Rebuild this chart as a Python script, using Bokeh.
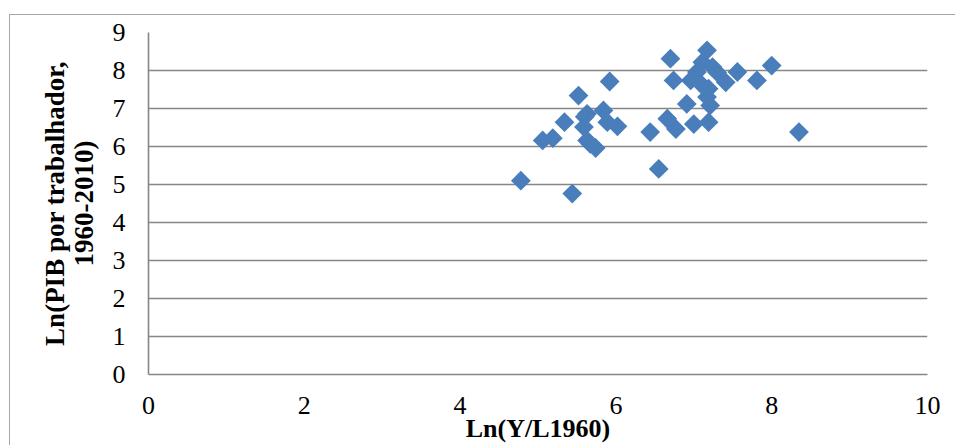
import math
from bokeh.plotting import figure
from bokeh.models import FixedTicker, Range1d
from bokeh.embed import file_html
from bokeh.resources import INLINE

# Data
ln_y_l1960 = [4.78, 5.44, 5.06, 5.19, 5.34, 5.52, 5.92, 5.63, 5.59, 5.84, 5.89, 6.02,
              5.63, 5.74, 5.67, 5.60,
              6.44, 6.55, 6.70, 6.74, 6.66, 6.77, 6.91, 7.00, 7.19, 7.17, 7.11, 7.24,
              7.04, 6.96, 7.09, 7.19, 7.17, 7.21, 7.41, 7.56, 7.81, 8.00, 8.35, 7.30]
ln_pib_trab = [5.10, 4.76, 6.16, 6.22, 6.64, 7.34, 7.71, 6.86, 6.51, 6.95, 6.64, 6.53,
               6.16, 5.96, 6.07, 6.78,
               6.38, 5.41, 8.31, 7.74, 6.73, 6.46, 7.12, 6.59, 6.64, 8.53, 8.22, 8.09,
               7.96, 7.74, 7.65, 7.52, 7.30, 7.08, 7.69, 7.96, 7.74, 8.13, 6.38, 7.95]

x_ticks = [0, 2, 4, 6, 8, 10]
y_ticks = [0, 1, 2, 3, 4, 5, 6, 7, 8, 9]
x_title = "Ln(Y/L1960)"
y_title = "Ln(PIB por trabalhador,\n1960-2010)"

W, H = 955, 445
FL, FT, FR, FB = 148, 32, 28, 71   # frame borders

p = figure(width=W, height=H, output_backend="svg", toolbar_location=None,
           x_range=Range1d(0, 10), y_range=Range1d(0, 9),
           min_border_left=FL, min_border_top=FT, min_border_right=FR, min_border_bottom=FB)
p.outline_line_color = None
p.background_fill_color = "white"
p.border_fill_color = None
border_col = "#a6a6a6"
p.styles = {
    "background-color": "white",
    "background-image": f"linear-gradient({border_col},{border_col}), linear-gradient({border_col},{border_col})",
    "background-size": "1px 100%, 100% 1px",
    "background-position": "9px 14px, 9px 14px",
    "background-repeat": "no-repeat",
}

grey = "#868686"
p.xgrid.grid_line_color = None
p.ygrid.grid_line_color = grey
p.ygrid.grid_line_width = 1.6
p.yaxis.ticker = FixedTicker(ticks=y_ticks)
p.xaxis.ticker = FixedTicker(ticks=x_ticks)

for ax in (p.xaxis[0], p.yaxis[0]):
    ax.axis_line_color = grey
    ax.axis_line_width = 1.6
    ax.major_tick_line_color = None
    ax.minor_tick_line_color = None
    ax.major_tick_out = 0
    ax.major_tick_in = 0
    ax.minor_tick_out = 0
    ax.major_label_text_font = "Liberation Serif"
    ax.major_label_text_font_size = "26px"
    ax.major_label_text_color = "black"
    ax.axis_label_text_font = "Liberation Serif"
    ax.axis_label_text_font_style = "bold"
    ax.axis_label_text_color = "black"
p.yaxis.major_label_standoff = 23
p.xaxis.major_label_standoff = 22

p.xaxis.axis_label = x_title
p.xaxis.axis_label_text_font_size = "26px"
p.xaxis.axis_label_standoff = -3

p.yaxis.axis_label = y_title
p.yaxis.axis_label_text_font_size = "27px"
p.yaxis.axis_label_text_line_height = 0.95
p.yaxis.axis_label_standoff = 11

p.scatter(ln_y_l1960, ln_pib_trab, marker="square", angle=math.pi / 4, size=14,
          fill_color="#4A7EBB", line_color=None)

open("out.html", "w").write(file_html(p, INLINE))
